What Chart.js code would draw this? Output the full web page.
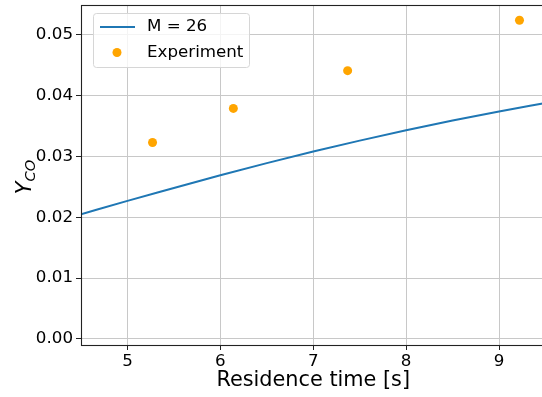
<!DOCTYPE html>
<html>
<head>
<meta charset="utf-8">
<script src="https://cdn.jsdelivr.net/npm/chart.js@4/dist/chart.umd.min.js"></script>
<style>
  html, body { margin: 0; padding: 0; background: #fff; overflow: hidden; }
  #wrap { width: 550px; height: 397px; }
</style>
</head>
<body>
<div id="wrap"><canvas id="chart" width="550" height="397"></canvas></div>
<script>
const modelTime = [4.5, 5, 5.5, 6, 6.5, 7, 7.5, 8, 8.5, 9, 9.5];
const modelYco  = [0.0205, 0.0227, 0.0248, 0.0269, 0.0289, 0.0308, 0.0326, 0.0343, 0.0359, 0.0374, 0.0388];
const expTime = [5.27, 6.14, 7.37, 9.22];
const expYco  = [0.0323, 0.0379, 0.0441, 0.0524];
const xTicks = [5, 6, 7, 8, 9];
const yTicks = [0, 0.01, 0.02, 0.03, 0.04, 0.05];

const FONT = "'DejaVu Sans', sans-serif";
const TICK_PX = 16.7;

// frame, axis labels and legend drawn by hand (matplotlib look)
const decor = {
    id: 'decor',
    afterDraw(chart) {
        const ctx = chart.ctx;
        const a = chart.chartArea;
        ctx.save();

        // spines
        ctx.strokeStyle = '#222';
        ctx.lineWidth = 1.1;
        ctx.strokeRect(a.left + 0.5, a.top + 0.5, a.right - a.left, a.bottom - a.top);

        // x label
        ctx.fillStyle = '#000';
        ctx.font = '20.8px ' + FONT;
        ctx.textAlign = 'center';
        ctx.textBaseline = 'middle';
        ctx.fillText('Residence time [s]', (a.left + a.right) / 2, 381);

        // y label: Y_CO
        ctx.translate(24, (a.top + a.bottom) / 2 + 2);
        ctx.rotate(-Math.PI / 2);
        ctx.textBaseline = 'alphabetic';
        ctx.textAlign = 'left';
        ctx.font = 'italic 20.8px ' + FONT;
        const wY = ctx.measureText('Y').width;
        ctx.font = 'italic 14.6px ' + FONT;
        const wS = ctx.measureText('CO').width;
        const x0 = -(wY + wS) / 2;
        ctx.font = 'italic 20.8px ' + FONT;
        ctx.fillText('Y', x0, 7);
        ctx.font = 'italic 14.6px ' + FONT;
        ctx.fillText('CO', x0 + wY, 11);
        ctx.setTransform(1, 0, 0, 1, 0, 0);

        // legend
        const bx = 93.5, by = 13.5, bw = 156, bh = 54;
        ctx.fillStyle = 'rgba(255,255,255,0.8)';
        ctx.strokeStyle = '#d6d6d6';
        ctx.lineWidth = 1;
        ctx.beginPath();
        ctx.roundRect(bx, by, bw, bh, 3);
        ctx.fill();
        ctx.stroke();

        const ds = chart.data.datasets;
        ctx.font = TICK_PX + 'px ' + FONT;
        ctx.textAlign = 'left';
        ctx.textBaseline = 'middle';

        ctx.strokeStyle = ds[0].borderColor;
        ctx.lineWidth = 2;
        ctx.beginPath();
        ctx.moveTo(100, 27);
        ctx.lineTo(135, 27);
        ctx.stroke();
        ctx.fillStyle = '#000';
        ctx.fillText(ds[0].label, 147, 27);

        ctx.fillStyle = ds[1].backgroundColor;
        ctx.beginPath();
        ctx.arc(117, 52.5, 4.5, 0, Math.PI * 2);
        ctx.fill();
        ctx.fillStyle = '#000';
        ctx.fillText(ds[1].label, 147, 52.5);

        ctx.restore();
    }
};

const ctx = document.getElementById('chart').getContext('2d');
new Chart(ctx, {
    type: 'scatter',
    data: {
        datasets: [
            {
                label: 'M = 26',
                data: modelTime.map((t, i) => ({ x: t, y: modelYco[i] })),
                showLine: true,
                borderColor: '#1f77b4',
                borderWidth: 2,
                pointRadius: 0,
                cubicInterpolationMode: 'monotone',
                order: 2
            },
            {
                label: 'Experiment',
                data: expTime.map((t, i) => ({ x: t, y: expYco[i] })),
                backgroundColor: '#ffa500',
                borderWidth: 0,
                pointRadius: 4.5,
                order: 1
            }
        ]
    },
    options: {
        responsive: false,
        animation: false,
        layout: { padding: { top: 5, right: 4, left: 0, bottom: 0 } },
        plugins: {
            legend: { display: false },
            tooltip: { enabled: false }
        },
        scales: {
            x: {
                type: 'linear',
                min: 4.5,
                max: 9.5,
                afterBuildTicks: s => { s.ticks = xTicks.map(v => ({ value: v })); },
                afterFit: s => { s.height = 52; s.paddingLeft = 0; s.paddingRight = 0; },
                grid: { color: '#c8c8c8', lineWidth: 1, tickLength: 5, tickColor: '#222' },
                border: { display: false },
                ticks: {
                    color: '#000',
                    padding: 2,
                    maxRotation: 0,
                    font: { family: FONT, size: TICK_PX },
                    callback: v => String(v)
                }
            },
            y: {
                min: -0.001,
                max: 0.0549,
                afterBuildTicks: s => { s.ticks = yTicks.map(v => ({ value: v })); },
                afterFit: s => { s.width = 81; s.paddingTop = 0; s.paddingBottom = 0; },
                grid: { color: '#c8c8c8', lineWidth: 1, tickLength: 5, tickColor: '#222' },
                border: { display: false },
                ticks: {
                    color: '#000',
                    padding: 3,
                    font: { family: FONT, size: TICK_PX },
                    callback: v => v.toFixed(2)
                }
            }
        }
    },
    plugins: [decor]
});
</script>
</body>
</html>
